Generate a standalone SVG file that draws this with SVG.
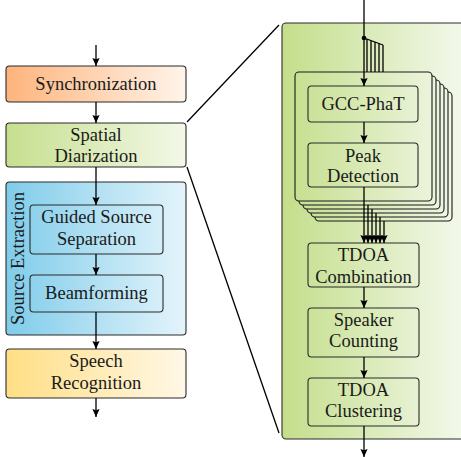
<svg xmlns="http://www.w3.org/2000/svg" width="461" height="457" viewBox="0 0 461 457">
  <defs>
    <linearGradient id="gOrange" x1="0" y1="0" x2="1" y2="0">
      <stop offset="0" stop-color="#FDB47C"/>
      <stop offset="1" stop-color="#FFF4EA"/>
    </linearGradient>
    <linearGradient id="gGreen" x1="0" y1="0" x2="1" y2="0">
      <stop offset="0" stop-color="#C6DF8E"/>
      <stop offset="1" stop-color="#F3F8E8"/>
    </linearGradient>
    <linearGradient id="gBlue" x1="0" y1="0" x2="1" y2="0">
      <stop offset="0" stop-color="#7FCCEA"/>
      <stop offset="1" stop-color="#E4F4FB"/>
    </linearGradient>
    <linearGradient id="gYellow" x1="0" y1="0" x2="1" y2="0">
      <stop offset="0" stop-color="#FFDE84"/>
      <stop offset="1" stop-color="#FFF8E7"/>
    </linearGradient>
    <linearGradient id="gPanel" gradientUnits="userSpaceOnUse" x1="282" y1="0" x2="461" y2="0">
      <stop offset="0" stop-color="#C3DE8A"/>
      <stop offset="1" stop-color="#F3F8EA"/>
    </linearGradient>
    <marker id="arrow" markerUnits="userSpaceOnUse" markerWidth="9" markerHeight="8" refX="8" refY="4" orient="auto">
      <path d="M0,0.4 L8,4 L0,7.6 L1.2,4 z" fill="#000"/>
    </marker>
  </defs>
  <style>
    .box { stroke: #2b2b2b; stroke-width: 1.1; }
    .inner { fill: none; stroke: #2b2b2b; stroke-width: 1.1; }
    .stack { fill: url(#gPanel); stroke: #1a1a1a; stroke-width: 1.1; }
    .lbl { font-family: "Liberation Serif", "Times New Roman", serif; font-size: 18.5px; fill: #1a1a1a; text-anchor: middle; }
    .conn { fill: none; stroke: #000; stroke-width: 1.3; }
    .arr { marker-end: url(#arrow); }
    .zoom { fill: none; stroke: #000; stroke-width: 1.3; }
  </style>

  <!-- detail panel for the spatial diarization stage -->
  <g id="diarization-panel">
    <rect x="282" y="23" width="190" height="416" rx="4" fill="url(#gPanel)" stroke="#2b2b2b" stroke-width="1.1"/>
  </g>

  <!-- zoom lines from the stage to its detail panel -->
  <g id="zoom-lines">
    <line class="zoom" x1="187" y1="122" x2="279" y2="25"/>
    <line class="zoom" x1="187" y1="167" x2="279" y2="433"/>
  </g>

  <!-- pipeline stages -->
  <g id="synchronization">
    <rect class="box" x="6" y="66" width="180" height="36" rx="3.5" fill="url(#gOrange)"/>
    <text class="lbl" x="96" y="89.5">Synchronization</text>
  </g>
  <g id="spatial-diarization">
    <rect class="box" x="6" y="123" width="180" height="44" rx="3.5" fill="url(#gGreen)"/>
    <text class="lbl" x="96" y="141">Spatial</text>
    <text class="lbl" x="96" y="162">Diarization</text>
  </g>
  <g id="source-extraction">
    <rect class="box" x="6" y="182" width="180" height="153" rx="3.5" fill="url(#gBlue)"/>
    <text class="lbl" transform="translate(23.5,258.5) rotate(-90)" x="0" y="0">Source Extraction</text>
  </g>
  <g id="guided-source-separation">
    <rect class="inner" x="30" y="205" width="133" height="49" rx="3.5"/>
    <text class="lbl" x="96.5" y="223">Guided Source</text>
    <text class="lbl" x="96.5" y="245">Separation</text>
  </g>
  <g id="beamforming">
    <rect class="inner" x="30" y="275" width="133" height="37" rx="3.5"/>
    <text class="lbl" x="96.5" y="298.5">Beamforming</text>
  </g>
  <g id="speech-recognition">
    <rect class="box" x="6" y="349" width="180" height="49" rx="3.5" fill="url(#gYellow)"/>
    <text class="lbl" x="96" y="367">Speech</text>
    <text class="lbl" x="96" y="389">Recognition</text>
  </g>

  <!-- per-microphone-pair stack (back copies first) -->
  <g id="pair-stack">
    <rect class="stack" x="315" y="92" width="137" height="129" rx="4"/>
    <rect class="stack" x="311" y="88" width="137" height="129" rx="4"/>
    <rect class="stack" x="307" y="84" width="137" height="129" rx="4"/>
    <rect class="stack" x="303" y="80" width="137" height="129" rx="4"/>
    <rect class="stack" x="299" y="76" width="137" height="129" rx="4"/>
    <rect class="stack" x="295" y="72" width="137" height="129" rx="4"/>
  </g>
  <g id="gcc-phat">
    <rect class="inner" x="308" y="86" width="110" height="36" rx="3.5"/>
    <text class="lbl" x="363" y="110">GCC-PhaT</text>
  </g>
  <g id="peak-detection">
    <rect class="inner" x="308" y="143" width="110" height="44" rx="3.5"/>
    <text class="lbl" x="363" y="161.5">Peak</text>
    <text class="lbl" x="363" y="182">Detection</text>
  </g>
  <g id="tdoa-combination">
    <rect class="inner" x="308" y="243" width="111" height="44" rx="3.5"/>
    <text class="lbl" x="363.5" y="260.5">TDOA</text>
    <text class="lbl" x="363.5" y="282.5">Combination</text>
  </g>
  <g id="speaker-counting">
    <rect class="inner" x="308" y="308" width="111" height="49" rx="3.5"/>
    <text class="lbl" x="363.5" y="326">Speaker</text>
    <text class="lbl" x="363.5" y="347">Counting</text>
  </g>
  <g id="tdoa-clustering">
    <rect class="inner" x="308" y="378" width="111" height="48" rx="3.5"/>
    <text class="lbl" x="363.5" y="395.5">TDOA</text>
    <text class="lbl" x="363.5" y="417">Clustering</text>
  </g>

  <!-- connectors -->
  <g id="connectors">
    <!-- left pipeline -->
    <line class="conn arr" x1="96" y1="45" x2="96" y2="66"/>
    <line class="conn arr" x1="96" y1="102" x2="96" y2="123"/>
    <line class="conn arr" x1="96" y1="167" x2="96" y2="205"/>
    <line class="conn arr" x1="96" y1="254" x2="96" y2="275"/>
    <line class="conn arr" x1="96" y1="312" x2="96" y2="349"/>
    <line class="conn arr" x1="96" y1="398" x2="96" y2="417"/>

    <!-- input split into the pair copies -->
    <line class="conn arr" x1="364" y1="0" x2="364" y2="86"/>
    <circle cx="364" cy="38" r="2.3" fill="#000"/>
    <polyline class="conn" points="364,38 383,45"/>
    <line class="conn" x1="367" y1="39.1" x2="367" y2="72"/>
    <line class="conn" x1="371" y1="40.6" x2="371" y2="72"/>
    <line class="conn" x1="375" y1="42.1" x2="375" y2="72"/>
    <line class="conn" x1="379" y1="43.5" x2="379" y2="72"/>
    <line class="conn" x1="383" y1="45" x2="383" y2="72"/>

    <line class="conn arr" x1="364" y1="122" x2="364" y2="143"/>

    <!-- pair outputs merged into the combination stage -->
    <line class="conn arr" x1="364" y1="187" x2="364" y2="243"/>
    <line class="conn arr" x1="368" y1="205" x2="368" y2="243"/>
    <line class="conn arr" x1="372" y1="209" x2="372" y2="243"/>
    <line class="conn arr" x1="376" y1="213" x2="376" y2="243"/>
    <line class="conn arr" x1="380" y1="217" x2="380" y2="243"/>
    <line class="conn arr" x1="384" y1="221" x2="384" y2="243"/>

    <line class="conn arr" x1="364" y1="287" x2="364" y2="308"/>
    <line class="conn arr" x1="364" y1="357" x2="364" y2="378"/>
    <line class="conn arr" x1="364" y1="426" x2="364" y2="457"/>
  </g>
</svg>
